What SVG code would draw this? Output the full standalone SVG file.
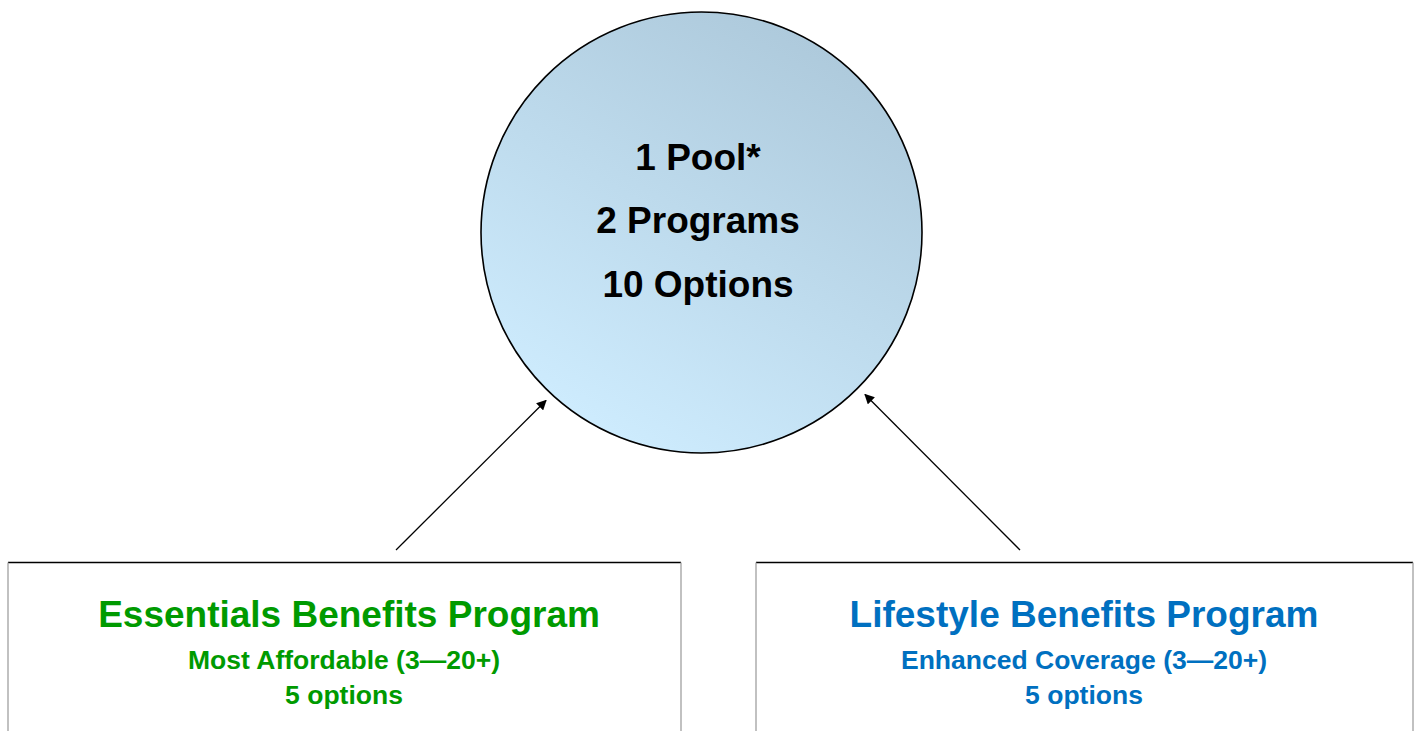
<svg xmlns="http://www.w3.org/2000/svg" width="1419" height="731" viewBox="0 0 1419 731">
  <defs>
    <linearGradient id="poolGrad" x1="0.8" y1="0.1" x2="0.3" y2="0.95">
      <stop offset="0" stop-color="#aecadc"/>
      <stop offset="1" stop-color="#cdebfd"/>
    </linearGradient>
    <marker id="arrow" viewBox="0 0 10 10" refX="9" refY="5" markerWidth="10" markerHeight="10" markerUnits="userSpaceOnUse" orient="auto">
      <path d="M0,0 L10,5 L0,10 z" fill="#000"/>
    </marker>
    <style>
      text { font-family: "Liberation Sans", Arial, sans-serif; font-weight: bold; text-anchor: middle; }
      .pool { font-size: 37px; fill: #000; }
      .title { font-size: 37px; }
      .sub { font-size: 26.5px; }
      .green { fill: #009a00; }
      .blue { fill: #0070c0; }
      .top { stroke: #000; stroke-width: 1.3; }
      .side { stroke: #a0a0a0; stroke-width: 1.3; }
      .conn { stroke: #000; stroke-width: 1.3; fill: none; marker-end: url(#arrow); }
    </style>
  </defs>
  <rect width="1419" height="731" fill="#fff"/>

  <g id="pool">
    <circle cx="701.5" cy="232.5" r="220.5" fill="url(#poolGrad)" stroke="#000" stroke-width="1.6"/>
    <text class="pool" x="698" y="170">1 Pool*</text>
    <text class="pool" x="698" y="233">2 Programs</text>
    <text class="pool" x="698" y="297">10 Options</text>
  </g>

  <g id="essentials">
    <rect x="8" y="562.5" width="673" height="180" fill="#fff"/>
    <line class="top" x1="8" y1="562.5" x2="681" y2="562.5"/>
    <line class="side" x1="8" y1="562.5" x2="8" y2="731"/>
    <line class="side" x1="681" y1="562.5" x2="681" y2="731"/>
    <text class="title green" x="349" y="627">Essentials Benefits Program</text>
    <text class="sub green" x="344" y="669">Most Affordable (3—20+)</text>
    <text class="sub green" x="344" y="704">5 options</text>
  </g>

  <g id="lifestyle">
    <rect x="756" y="562.5" width="657" height="180" fill="#fff"/>
    <line class="top" x1="756" y1="562.5" x2="1413" y2="562.5"/>
    <line class="side" x1="756" y1="562.5" x2="756" y2="731"/>
    <line class="side" x1="1413" y1="562.5" x2="1413" y2="731"/>
    <text class="title blue" x="1084" y="627">Lifestyle Benefits Program</text>
    <text class="sub blue" x="1084" y="669">Enhanced Coverage (3—20+)</text>
    <text class="sub blue" x="1084" y="704">5 options</text>
  </g>

  <g id="connectors">
    <line class="conn" x1="396" y1="550" x2="546" y2="400.5"/>
    <line class="conn" x1="1020" y1="550" x2="865" y2="394.5"/>
  </g>
</svg>
